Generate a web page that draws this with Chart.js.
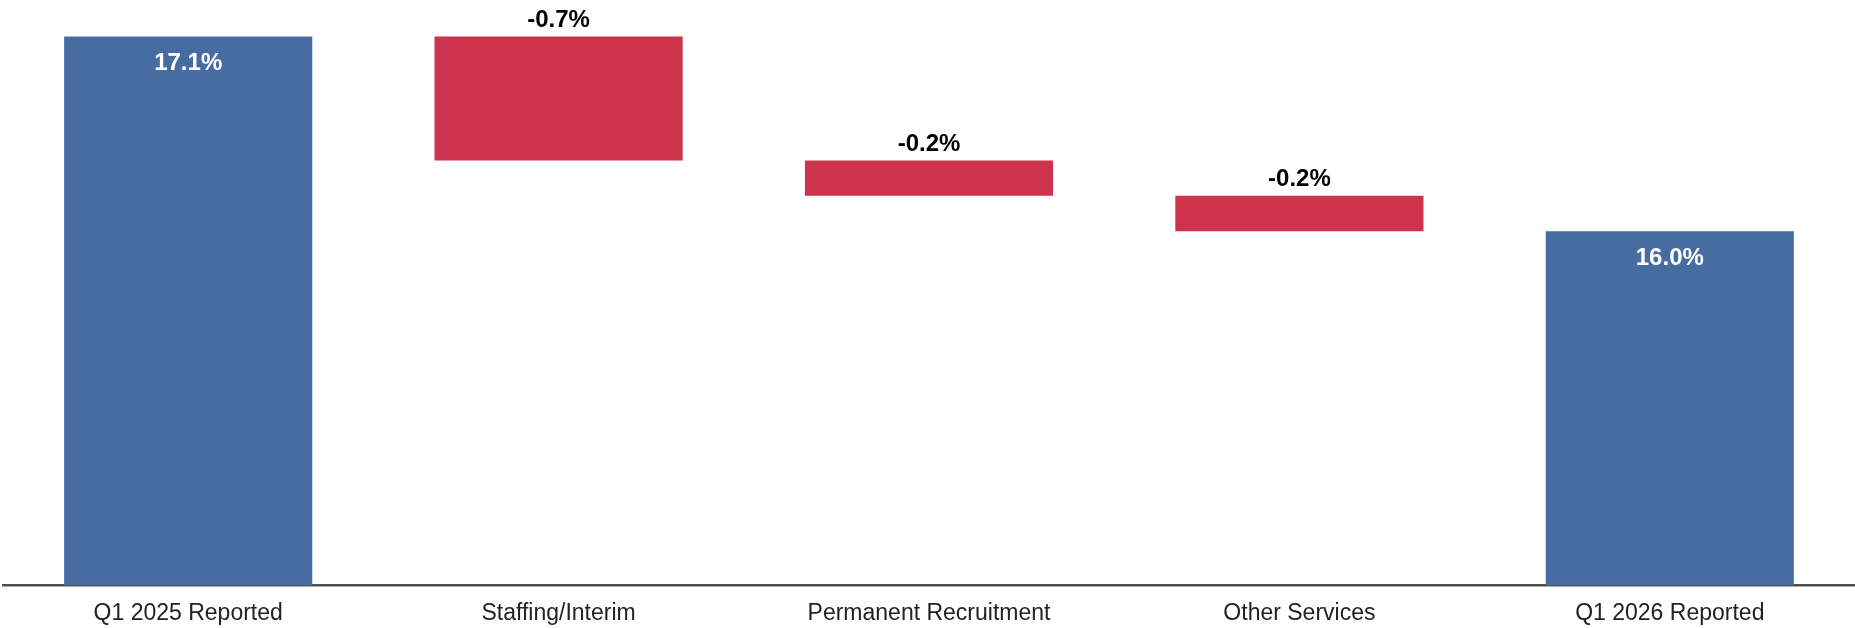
<!DOCTYPE html>
<html>
<head>
<meta charset="utf-8">
<script src="https://cdn.jsdelivr.net/npm/chart.js@4"></script>
<style>
    html, body { margin: 0; padding: 0; background: #ffffff; }
    #wrap { width: 1855px; height: 628px; }
</style>
</head>
<body>
<div id="wrap"><canvas id="bridge-chart"></canvas></div>
<script>
// Data
const categories = ['Q1 2025 Reported', 'Staffing/Interim', 'Permanent Recruitment', 'Other Services', 'Q1 2026 Reported'];
const startValue = 17.1;
const changes = [-0.7, -0.2, -0.2];
const endValue = 16.0;
const axisMin = 14.0;

const totalColor = '#466ca2';
const dropColor = '#cc344d';

// Build floating bars from start, changes and end
const ranges = [[axisMin, startValue]];
const kinds = ['total'];
let running = startValue;
changes.forEach(change => {
    const next = Math.round((running + change) * 10) / 10;
    ranges.push([Math.min(running, next), Math.max(running, next)]);
    kinds.push('change');
    running = next;
});
ranges.push([axisMin, endValue]);
kinds.push('total');

const labelValues = [startValue].concat(changes, [endValue]);

const barLabels = {
    id: 'barLabels',
    afterDatasetsDraw(chart) {
        const ctx = chart.ctx;
        const meta = chart.getDatasetMeta(0);
        ctx.save();
        ctx.font = 'bold 24px "Liberation Sans", Arial, sans-serif';
        ctx.textAlign = 'center';
        ctx.textBaseline = 'middle';
        meta.data.forEach((bar, i) => {
            const text = labelValues[i].toFixed(1) + '%';
            if (kinds[i] === 'total') {
                ctx.fillStyle = '#ffffff';
                ctx.fillText(text, bar.x, bar.y + 27);
            } else {
                ctx.fillStyle = '#000000';
                ctx.fillText(text, bar.x, Math.max(bar.y - 16, 17));
            }
        });
        ctx.restore();
    }
};

new Chart(document.getElementById('bridge-chart').getContext('2d'), {
    type: 'bar',
    data: {
        labels: categories,
        datasets: [{
            data: ranges,
            backgroundColor: kinds.map(k => k === 'total' ? totalColor : dropColor),
            borderWidth: 0,
            borderSkipped: false,
            barPercentage: 0.67,
            categoryPercentage: 1.0
        }]
    },
    options: {
        responsive: true,
        maintainAspectRatio: false,
        animation: false,
        layout: { padding: { left: 3, right: 0, top: 0, bottom: -13 } },
        plugins: {
            legend: { display: false },
            tooltip: { enabled: false }
        },
        scales: {
            x: {
                grid: { display: false, drawTicks: false },
                border: { display: true, color: '#505050', width: 2.5 },
                ticks: {
                    color: '#222222',
                    padding: 14,
                    font: { family: '"Liberation Sans", Arial, sans-serif', size: 23 }
                }
            },
            y: {
                display: false,
                min: axisMin,
                max: 17.306
            }
        }
    },
    plugins: [barLabels]
});
</script>
</body>
</html>
